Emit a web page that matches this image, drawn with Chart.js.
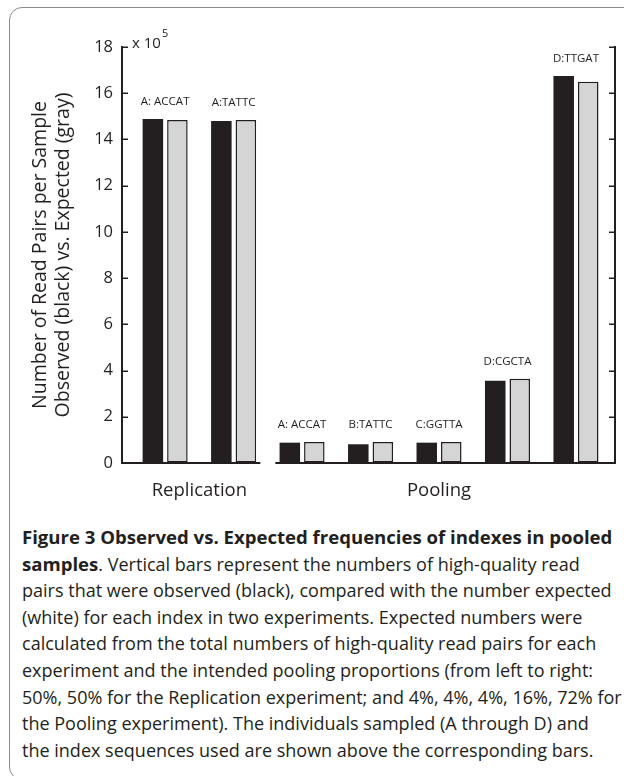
<!DOCTYPE html>
<html><head><meta charset="utf-8">
<script src="https://cdn.jsdelivr.net/npm/chart.js@4.4.0/dist/chart.umd.min.js"></script>
<style>
html,body{margin:0;padding:0;background:#fff;}
body{width:624px;height:776px;overflow:hidden;position:relative;font-family:'Open Sans',sans-serif;}
#frame{position:absolute;left:9px;top:7px;width:720px;height:773px;border:1.5px solid #8a8a8a;border-radius:13px;box-sizing:border-box;}
#wrap{position:absolute;left:0;top:0;width:624px;height:515px;}
#cap{position:absolute;left:22px;top:524px;color:#231f20;white-space:nowrap;font-size:17px;}
#cap div{height:26.6px;line-height:26.6px;}
#cap b{font-weight:700;}
</style></head>
<body>
<div id="frame"></div>
<div id="wrap"><canvas id="c"></canvas></div>
<div id="cap">
<div id="l1"><b>Figure 3 Observed vs. Expected frequencies of indexes in pooled</b></div>
<div><b>samples</b>. Vertical bars represent the numbers of high-quality read</div>
<div id="l3">pairs that were observed (black), compared with the number expected</div>
<div>(white) for each index in two experiments. Expected numbers were</div>
<div>calculated from the total numbers of high-quality read pairs for each</div>
<div>experiment and the intended pooling proportions (from left to right:</div>
<div>50%, 50% for the Replication experiment; and 4%, 4%, 4%, 16%, 72% for</div>
<div>the Pooling experiment). The individuals sampled (A through D) and</div>
<div>the index sequences used are shown above the corresponding bars.</div>
</div>
<script>
// ---- data ----
const categories = ['A: ACCAT', 'A:TATTC', 'A: ACCAT', 'B:TATTC', 'C:GGTTA', 'D:CGCTA', 'D:TTGAT'];
const groups = ['Replication', 'Replication', 'Pooling', 'Pooling', 'Pooling', 'Pooling', 'Pooling'];
const observed = [14.88, 14.80, 0.88, 0.81, 0.88, 3.56, 16.75];   // x 10^5
const expected = [14.84, 14.84, 0.91, 0.91, 0.91, 3.65, 16.50];   // x 10^5
const yTicks = [0, 2, 4, 6, 8, 10, 12, 14, 16, 18];
const yTitle = ['Number of Read Pairs per Sample', 'Observed (black) vs. Expected (gray)'];
const multiplierText = 'x 10';
const multiplierExp = '5';

// ---- caption fitting ----
(function fitCaption(){
  const l3 = document.getElementById('l3');
  const l1 = document.getElementById('l1');
  const target = 590;
  const s = document.createElement('span'); s.textContent = l3.textContent; l3.textContent=''; l3.appendChild(s);
  const fs = 17 * target / s.getBoundingClientRect().width;
  document.getElementById('cap').style.fontSize = fs + 'px';
  const b = l1.querySelector('b');
  const bw = b.getBoundingClientRect().width;
  const bfs = fs * target / bw;
  document.querySelectorAll('#cap b').forEach(e => e.style.fontSize = bfs + 'px');
})();

const INK = '#231f20';
const groupNames = [...new Set(groups)];
const groupCenters = groupNames.map(g => {
  const idx = groups.map((x, i) => x === g ? i + 1 : null).filter(v => v !== null);
  return idx.reduce((a, b) => a + b, 0) / idx.length;
});

const axisDecor = {
  id: 'axisDecor',
  afterDatasetsDraw(chart) {
    const {ctx, chartArea: a, scales: {x, y}} = chart;
    ctx.save();
    ctx.strokeStyle = INK;
    // inward tick marks on both vertical axes
    ctx.lineWidth = 1.5;
    yTicks.forEach(v => {
      const py = Math.round(y.getPixelForValue(v)) + 0.25;
      ctx.beginPath(); ctx.moveTo(a.left, py); ctx.lineTo(a.left + 6, py); ctx.stroke();
      ctx.beginPath(); ctx.moveTo(a.right, py); ctx.lineTo(a.right - 6, py); ctx.stroke();
    });
    // broken baseline, one segment per group
    const y0 = y.getPixelForValue(0);
    ctx.lineWidth = 2;
    let start = a.left;
    for (let i = 1; i < groups.length; i++) {
      if (groups[i] !== groups[i - 1]) {
        const mid = (x.getPixelForValue(i) + x.getPixelForValue(i + 1)) / 2;
        ctx.beginPath(); ctx.moveTo(start, y0); ctx.lineTo(mid - 7.5, y0); ctx.stroke();
        start = mid + 7.5;
      }
    }
    ctx.beginPath(); ctx.moveTo(start, y0); ctx.lineTo(a.right, y0); ctx.stroke();
    // pair labels
    ctx.fillStyle = INK;
    ctx.font = '11.5px "Open Sans"';
    ctx.textAlign = 'center';
    ctx.textBaseline = 'middle';
    categories.forEach((c, i) => {
      const top = y.getPixelForValue(Math.max(observed[i], expected[i]));
      ctx.fillText(c, x.getPixelForValue(i + 1), top - 17);
    });
    // multiplier
    ctx.textAlign = 'left';
    ctx.font = '15px "Open Sans"';
    const mx = a.left + 10, my = a.top - 3;
    ctx.fillText(multiplierText, mx, my);
    const w = ctx.measureText(multiplierText).width;
    ctx.font = '11px "Open Sans"';
    ctx.fillText(multiplierExp, mx + w + 1, my - 10);
    ctx.restore();
  }
};

new Chart(document.getElementById('c'), {
  type: 'bar',
  data: {
    datasets: [
      {
        label: 'Observed',
        data: observed.map((v, i) => ({x: i + 1, y: v})),
        backgroundColor: INK,
        borderWidth: 0,
        categoryPercentage: 0.716,
        barPercentage: 0.837
      },
      {
        label: 'Expected',
        data: expected.map((v, i) => ({x: i + 1, y: v})),
        backgroundColor: '#d5d5d5',
        borderColor: INK,
        borderWidth: 1.5,
        borderSkipped: false,
        categoryPercentage: 0.716,
        barPercentage: 0.837
      }
    ]
  },
  options: {
    responsive: true,
    maintainAspectRatio: false,
    animation: false,
    layout: {padding: {top: 47, left: 0, right: 0, bottom: 0}},
    plugins: {legend: {display: false}, tooltip: {enabled: false}},
    scales: {
      x: {
        type: 'linear',
        offset: false,
        min: 0.37, max: 7.57,
        grid: {display: false, offset: false},
        border: {display: false},
        afterBuildTicks: s => { s.ticks = groupCenters.map(v => ({value: v})); },
        afterFit: s => { s.height = 52; },
        ticks: {
          callback: (v, i) => groupNames[i],
          color: INK, padding: 9,
          font: {family: '"Open Sans"', size: 18.5},
          maxRotation: 0, autoSkip: false
        }
      },
      y: {
        position: 'left',
        min: 0, max: 18,
        afterBuildTicks: s => { s.ticks = yTicks.map(v => ({value: v})); },
        afterFit: s => { s.width = 122; },
        grid: {drawOnChartArea: false, drawTicks: false},
        border: {display: true, width: 2, color: INK},
        ticks: {color: INK, padding: 9, font: {family: '"Open Sans"', size: 16.5}},
        title: {
          display: true, text: yTitle, color: INK,
          font: {family: '"Open Sans"', size: 19.5, lineHeight: 1.18},
          padding: {top: 28.5, bottom: 0}
        }
      },
      y2: {
        position: 'right',
        min: 0, max: 18,
        afterBuildTicks: s => { s.ticks = yTicks.map(v => ({value: v})); },
        afterFit: s => { s.width = 9; },
        grid: {drawOnChartArea: false, drawTicks: false},
        border: {display: true, width: 2, color: INK},
        ticks: {display: false}
      }
    }
  },
  plugins: [axisDecor]
});
</script>
</body></html>
